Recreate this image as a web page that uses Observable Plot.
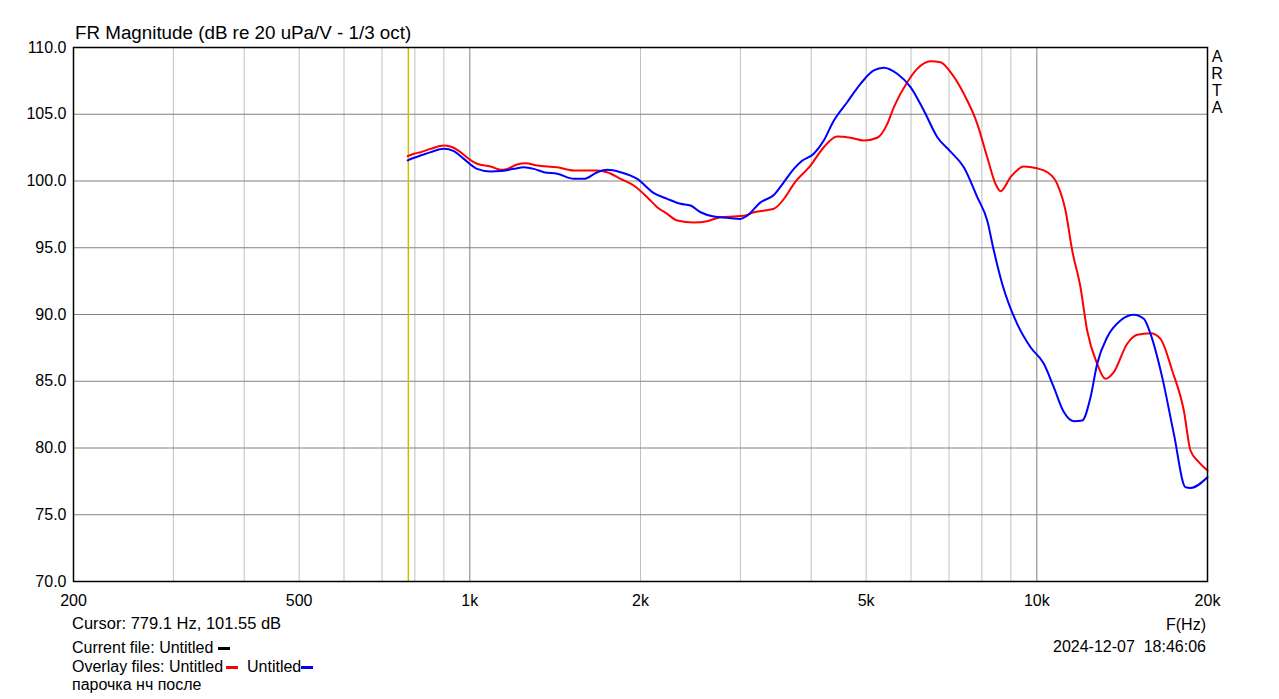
<!DOCTYPE html>
<html>
<head>
<meta charset="utf-8">
<script src="https://cdn.jsdelivr.net/npm/d3@7"></script>
<script src="https://cdn.jsdelivr.net/npm/@observablehq/plot@0.6"></script>
<style>
  html, body { margin: 0; padding: 0; background: #fff; }
  #chart svg { display: block; }
</style>
</head>
<body>
<div id="chart"></div>
<script>
// ---- data ----
const redFreq = [777, 797, 819, 853, 900, 924, 963, 990, 1030, 1088, 1133, 1164, 1212, 1254, 1315, 1426, 1526, 1678, 1747, 1844, 1946, 2055, 2140, 2229, 2321, 2483, 2622, 2768, 2922, 3043, 3170, 3437, 3600, 3728, 3989, 4210, 4446, 4694, 4954, 5232, 5449, 5596, 5908, 6152, 6495, 6764, 7044, 7435, 7852, 8176, 8456, 8630, 8989, 9487, 10000, 10434, 10862, 11236, 11546, 11940, 12268, 12778, 13218, 13670, 14434, 15032, 15868, 16524, 17326, 18166, 18666, 19308, 20000];
const redDb = [101.86, 102.04, 102.16, 102.41, 102.66, 102.58, 102.16, 101.74, 101.29, 101.09, 100.84, 100.91, 101.24, 101.33, 101.16, 101.03, 100.79, 100.79, 100.66, 100.16, 99.66, 98.79, 98.04, 97.54, 97.04, 96.89, 96.99, 97.29, 97.34, 97.39, 97.66, 97.92, 98.79, 99.79, 101.16, 102.53, 103.33, 103.24, 103.03, 103.24, 104.28, 105.53, 107.40, 108.40, 108.97, 108.90, 108.15, 106.53, 104.28, 101.78, 99.79, 99.24, 100.29, 101.09, 100.95, 100.66, 99.79, 97.79, 94.79, 92.04, 88.80, 86.31, 85.18, 85.68, 87.81, 88.48, 88.60, 88.18, 85.81, 82.81, 79.81, 78.94, 78.31];

const blueFreq = [777, 797, 819, 853, 900, 937, 976, 1030, 1088, 1133, 1196, 1245, 1297, 1351, 1426, 1526, 1589, 1678, 1747, 1844, 1973, 2112, 2229, 2353, 2451, 2553, 2694, 2845, 3002, 3086, 3256, 3437, 3578, 3728, 3850, 4042, 4210, 4386, 4629, 4887, 5158, 5372, 5672, 5988, 6320, 6676, 7044, 7435, 7852, 8176, 8398, 8690, 9233, 9748, 10290, 10712, 11160, 11622, 12024, 12438, 12778, 13308, 14048, 14826, 15442, 15868, 16638, 17446, 18292, 18666, 20000];
const blueDb = [101.54, 101.74, 101.91, 102.16, 102.41, 102.24, 101.66, 100.91, 100.71, 100.74, 100.91, 101.03, 100.91, 100.66, 100.54, 100.16, 100.16, 100.66, 100.84, 100.66, 100.16, 99.09, 98.66, 98.29, 98.16, 97.66, 97.34, 97.24, 97.16, 97.41, 98.40, 98.95, 99.90, 100.91, 101.50, 102.04, 103.03, 104.53, 105.90, 107.28, 108.28, 108.48, 108.03, 107.03, 105.28, 103.28, 102.20, 101.03, 98.79, 97.04, 94.79, 92.29, 89.30, 87.55, 86.31, 84.56, 82.69, 82.01, 82.06, 83.81, 86.31, 88.30, 89.55, 89.98, 89.68, 88.55, 85.31, 81.06, 77.06, 77.01, 77.81];

const xTicks = [200, 500, 1000, 2000, 5000, 10000, 20000];
const xTickLabels = ["200", "500", "1k", "2k", "5k", "10k", "20k"];
const yTicks = [70, 75, 80, 85, 90, 95, 100, 105, 110];
const minorGridX = [300, 400, 500, 600, 700, 800, 900, 2000, 3000, 4000, 5000, 6000, 7000, 8000, 9000];
const majorGridX = [1000, 10000];
const cursorFreq = [779.1];

const red = redFreq.map((f, i) => ({f, db: redDb[i]}));
const blue = blueFreq.map((f, i) => ({f, db: blueDb[i]}));
const xLabel = new Map(xTicks.map((t, i) => [t, xTickLabels[i]]));

const font = "Arial, 'Liberation Sans', sans-serif";

const chart = Plot.plot({
  width: 1279,
  height: 699,
  marginLeft: 73,
  marginRight: 72,
  marginTop: 47,
  marginBottom: 118,
  style: {fontFamily: font, fontSize: "16px", background: "#fff", color: "#000", overflow: "visible"},
  x: {type: "log", domain: [200, 20000]},
  y: {domain: [70, 110]},
  marks: [
    Plot.ruleX(minorGridX, {stroke: "#c0c0c0", strokeWidth: 1}),
    Plot.ruleX(majorGridX, {stroke: "#808080", strokeWidth: 1}),
    Plot.ruleY(yTicks.slice(1, -1), {stroke: "#808080", strokeWidth: 1}),
    Plot.ruleX(cursorFreq, {stroke: "#c8c000", strokeWidth: 1.5}),
    Plot.line(red, {x: "f", y: "db", stroke: "#ff0000", strokeWidth: 2, curve: "monotone-x"}),
    Plot.line(blue, {x: "f", y: "db", stroke: "#0000ff", strokeWidth: 2, curve: "monotone-x"}),
    Plot.frame({stroke: "#000", strokeWidth: 1.5}),
    Plot.axisX({ticks: xTicks, tickFormat: d => xLabel.get(d), tickSize: 0, tickPadding: 13, label: null, fontSize: 16}),
    Plot.axisY({ticks: yTicks, tickFormat: d => d.toFixed(1), tickSize: 0, tickPadding: 7, label: null, fontSize: 16})
  ]
});

document.getElementById("chart").appendChild(chart);

const svg = d3.select(chart);
const addText = (x, y, t, opts = {}) => {
  const el = svg.append("text")
    .attr("x", x).attr("y", y)
    .attr("font-family", font)
    .attr("font-size", opts.size || 16)
    .attr("fill", "#000")
    .attr("text-anchor", opts.anchor || "start")
    .text(t);
  return el;
};

addText(75, 39, "FR Magnitude (dB re 20 uPa/V - 1/3 oct)", {size: 18.8});
["A", "R", "T", "A"].forEach((c, i) => addText(1217, 62 + i * 17, c, {anchor: "middle"}));
addText(72, 629, "Cursor: 779.1 Hz, 101.55 dB", {size: 16.5});
addText(72, 653, "Current file: Untitled");
addText(72, 672, "Overlay files: Untitled");
addText(247, 672, "Untitled");
addText(72, 690, "парочка нч после");
addText(1206, 630, "F(Hz)", {anchor: "end"});
addText(1206, 652, "2024-12-07  18:46:06", {anchor: "end"}).attr("xml:space", "preserve").style("white-space", "pre");

const legendLine = (x1, x2, y, color) => svg.append("line")
  .attr("x1", x1).attr("x2", x2).attr("y1", y).attr("y2", y)
  .attr("stroke", color).attr("stroke-width", 3);
legendLine(218, 230, 648.5, "#000");
legendLine(226, 238, 667.5, "#ff0000");
legendLine(301, 313, 667.5, "#0000ff");
</script>
</body>
</html>
